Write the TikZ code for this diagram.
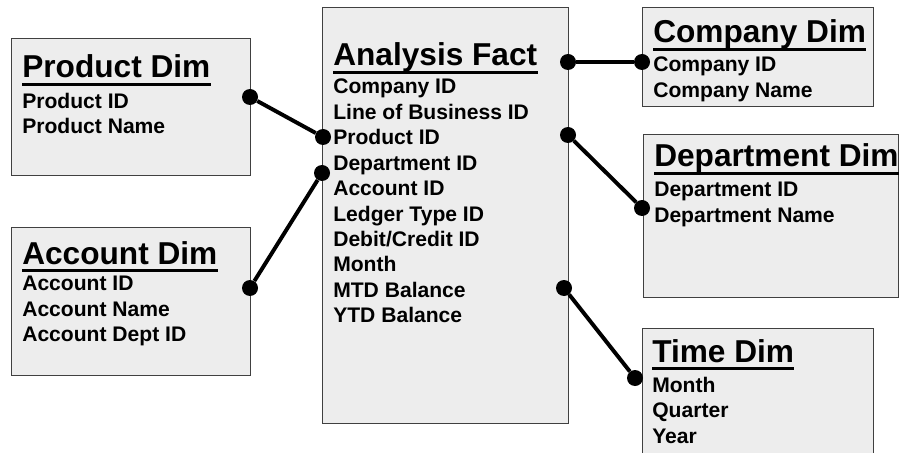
\documentclass[tikz,border=0pt]{standalone}
\usepackage{fontspec}
\setmainfont{Liberation Sans}
\usepackage{xcolor}
\definecolor{boxgray}{HTML}{EDEDED}
\definecolor{edgegray}{HTML}{404040}

\tikzset{
	dimbox/.style={draw=edgegray, line width=1pt, fill=boxgray, anchor=north west, inner sep=0},
	dimtitle/.style={anchor=base west, inner sep=0, font=\fontsize{22.5}{27}\selectfont\bfseries},
	fieldlist/.style={anchor=north west, inner sep=0, align=left, font=\fontsize{15}{18.1}\selectfont\bfseries},
	uline/.style={line width=2.5pt},
	joint/.style={circle, fill=black, inner sep=0, minimum size=0.4cm},
	link/.style={line width=2.8pt}
}

\begin{document}
\begin{tikzpicture}
		\clip (0,0) rectangle (22.525,-11.325);

		% boxes
		\node[dimbox, minimum width=5.975cm, minimum height=3.425cm](prod) at (0.275,-0.95){};
		\node[dimbox, minimum width=5.975cm, minimum height=3.7cm](acct) at (0.275,-5.675){};
		\node[dimbox, minimum width=6.15cm, minimum height=10.4cm](fact) at (8.05,-0.175){};
		\node[dimbox, minimum width=5.775cm, minimum height=2.475cm](comp) at (16.05,-0.175){};
		\node[dimbox, minimum width=6.375cm, minimum height=4.075cm](dept) at (16.075,-3.35){};
		\node[dimbox, minimum width=5.775cm, minimum height=3.5cm](time) at (16.05,-8.2){};

		% titles
		\node[dimtitle](prodT) at (0.55,-1.95){Product Dim};
		\node[dimtitle](acctT) at (0.55,-6.6){Account Dim};
		\node[dimtitle](factT) at (8.325,-1.65){Analysis Fact};
		\node[dimtitle](compT) at (16.325,-1.075){Company Dim};
		\node[dimtitle](deptT) at (16.35,-4.175){Department Dim};
		\node[dimtitle](timeT) at (16.3,-9.05){Time Dim};

		\foreach \t in {prodT,acctT,factT,compT,deptT,timeT}
			\draw[uline] ([yshift=-0.16cm]\t.base west) -- ([yshift=-0.16cm]\t.base east);

		% fields
		\node[fieldlist](prodF) at (0.55,-2.32){Product ID\\Product Name};
		\node[fieldlist](acctF) at (0.55,-6.895){Account ID\\Account Name\\Account Dept ID};
		\node[fieldlist](factF) at (8.325,-1.97){Company ID\\Line of Business ID\\Product ID\\Department ID\\Account ID\\Ledger Type ID\\Debit/Credit ID\\Month\\MTD Balance\\YTD Balance};
		\node[fieldlist](compF) at (16.325,-1.42){Company ID\\Company Name};
		\node[fieldlist](deptF) at (16.35,-4.545){Department ID\\Department Name};
		\node[fieldlist](timeF) at (16.3,-9.42){Month\\Quarter\\Year};

		% joints
		\node[joint](pA) at (6.25,-2.425){};
		\node[joint](pB) at (8.075,-3.425){};
		\node[joint](aA) at (6.25,-7.2){};
		\node[joint](aB) at (8.05,-4.325){};
		\node[joint](cA) at (14.2,-1.55){};
		\node[joint](cB) at (16.05,-1.55){};
		\node[joint](dA) at (14.2,-3.375){};
		\node[joint](dB) at (16.05,-5.2){};
		\node[joint](tA) at (14.1,-7.2){};
		\node[joint](tB) at (15.875,-9.45){};

		\draw[link] (pA) -- (pB);
		\draw[link] (aA) -- (aB);
		\draw[link] (cA) -- (cB);
		\draw[link] (dA) -- (dB);
		\draw[link] (tA) -- (tB);
	\end{tikzpicture}
\end{document}
